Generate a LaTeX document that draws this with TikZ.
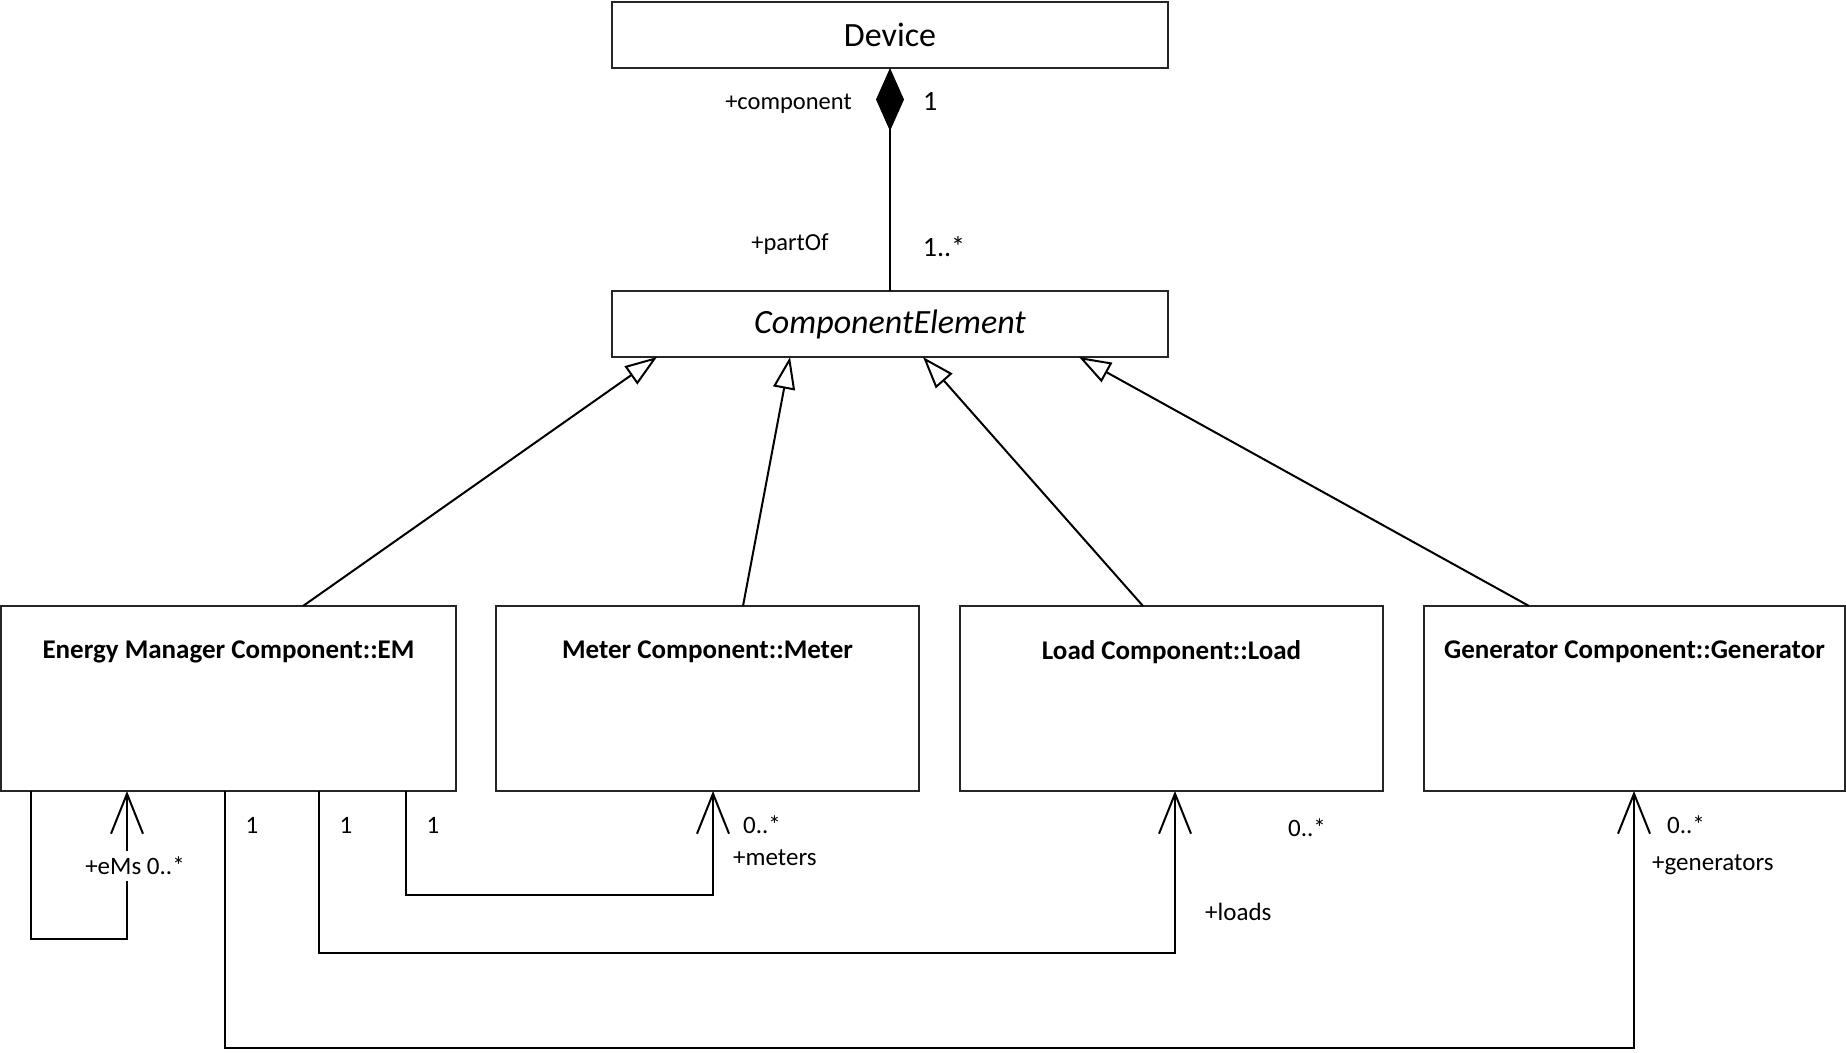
\documentclass[tikz,border=0pt]{standalone}
\usepackage{fontspec}
\setmainfont{Carlito}
\usetikzlibrary{arrows.meta}
\begin{document}
\begin{tikzpicture}[x=1pt,y=-1pt,
  cls/.style={draw=black!85, line width=2pt, fill=white, inner sep=0pt, outer sep=0pt, anchor=north west},
  bigtext/.style={font=\fontsize{34}{40}\selectfont},
  title/.style={font=\fontsize{27}{32}\selectfont\bfseries, inner sep=0pt},
  lbl/.style={font=\fontsize{25}{30}\selectfont, inner sep=1pt},
  smalllbl/.style={font=\fontsize{24.5}{29}\selectfont, inner sep=1pt},
  numlbl/.style={font=\fontsize{28}{33}\selectfont, inner sep=1pt},
  conn/.style={line width=2pt},
  genarrow/.style={conn, -{Triangle[open, length=32pt, width=22pt]}},
  nav/.style={conn, -{Straight Barb[length=40pt, width=32pt]}},
  comp/.style={conn, {Diamond[length=63pt, width=28pt]}-}]
\useasboundingbox (0,0) rectangle (1846,1052);

% classes
\node[cls, bigtext, minimum width=556pt, minimum height=66pt] (dev) at (612,2) {Device};
\node[cls, bigtext, minimum width=556pt, minimum height=66pt] (ce) at (612,291) {\itshape ComponentElement};

\node[cls, minimum width=455pt, minimum height=185pt] (em) at (1,606) {};
\node[cls, minimum width=423pt, minimum height=185pt] (meter) at (496,606) {};
\node[cls, minimum width=423pt, minimum height=185pt] (load) at (960,606) {};
\node[cls, minimum width=421pt, minimum height=185pt] (gen) at (1424,606) {};

\node[title] (emt) at ([yshift=-46pt]em.north) {Energy Manager Component::EM};
\node[title] (metert) at ([yshift=-46pt]meter.north) {Meter Component::Meter};
\node[title] (loadt) at ([yshift=-46pt]load.north) {Load Component::Load};
\node[title] (gent) at ([yshift=-46pt]gen.north) {Generator Component::Generator};

% composition Device <>-- ComponentElement
\draw[comp] (dev.south) -- (ce.north);
\node[smalllbl, anchor=east] (lcomp) at (853,104) {+component};
\node[numlbl, anchor=west] (lone) at (922,101) {1};
\node[smalllbl] (lpart) at (790,244) {+partOf};
\node[numlbl] (lmany) at (944,247) {1..*};

% generalizations
\draw[genarrow] ([xshift=302pt]em.north west) -- ([xshift=45pt]ce.south west);
\draw[genarrow] ([xshift=247pt]meter.north west) -- ([xshift=178pt]ce.south west);
\draw[genarrow] ([xshift=183pt]load.north west) -- ([xshift=311pt]ce.south west);
\draw[genarrow] ([xshift=105pt]gen.north west) -- ([xshift=467pt]ce.south west);

% directed associations from the energy manager
\draw[nav] ([xshift=30pt]em.south west) -- ++(0,148) -| ([xshift=126pt]em.south west);
\draw[nav] ([xshift=405pt]em.south west) -- ++(0,104) -| ([xshift=217pt]meter.south west);
\draw[nav] ([xshift=318pt]em.south west) -- ++(0,162) -| ([xshift=215pt]load.south west);
\draw[nav] ([xshift=224pt]em.south west) -- ++(0,257) -| ([xshift=210pt]gen.south west);

% association ends
\node[lbl, fill=white, inner ysep=6pt] (lems) at (135,866) {+eMs 0..*};
\node[lbl] (lone1) at (252,825) {1};
\node[lbl] (lone2) at (346,825) {1};
\node[lbl] (lone3) at (433,825) {1};
\node[lbl, anchor=west] (lmetm) at (742,825) {0..*};
\node[lbl, anchor=west] (lmet) at (732,858) {+meters};
\node[lbl] (lloadm) at (1307,828) {0..*};
\node[lbl, anchor=west] (lload) at (1204,912) {+loads};
\node[lbl, anchor=west] (lgenm) at (1666,825) {0..*};
\node[lbl, anchor=west] (lgen) at (1651,865) {+generators};
\end{tikzpicture}
\end{document}
